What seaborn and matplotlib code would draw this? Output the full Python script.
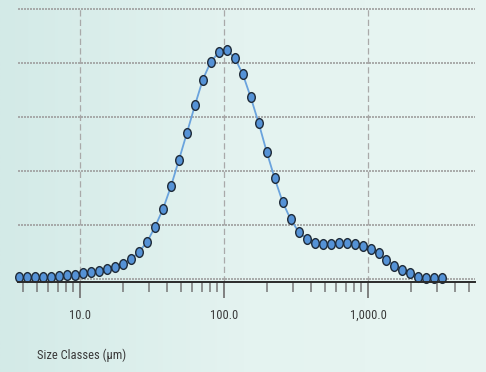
import numpy as np
import matplotlib
matplotlib.use("Agg")
import matplotlib.pyplot as plt
from matplotlib import font_manager
from matplotlib.path import Path
from matplotlib.transforms import Affine2D
from matplotlib.ticker import FixedLocator, NullFormatter
from matplotlib.colors import LinearSegmentedColormap
import seaborn as sns

# Size class centres (µm) of the laser-diffraction distribution
size_classes = [
    3.784, 4.300, 4.886, 5.551, 6.307, 7.166, 8.142, 9.250, 10.51, 11.94,
    13.57, 15.41, 17.51, 19.90, 22.61, 25.68, 29.18, 33.15, 37.67, 42.80,
    48.63, 55.25, 62.77, 71.32, 81.03, 92.06, 104.6, 118.8, 135.0, 153.4,
    174.3, 198.0, 224.9, 255.6, 290.4, 329.9, 374.8, 425.9, 483.9, 549.7,
    624.6, 709.6, 806.3, 916.1, 1041, 1183, 1344, 1527, 1735, 1971,
    2239, 2544, 2891, 3284,
]
# Volume density (%) per size class
volume_density = [
    0.04, 0.04, 0.04, 0.04, 0.04, 0.06, 0.08, 0.09, 0.11, 0.13,
    0.16, 0.19, 0.23, 0.29, 0.37, 0.51, 0.69, 0.97, 1.30, 1.72,
    2.21, 2.71, 3.22, 3.70, 4.03, 4.20, 4.25, 4.10, 3.80, 3.37,
    2.89, 2.36, 1.87, 1.43, 1.11, 0.88, 0.75, 0.68, 0.66, 0.66,
    0.67, 0.67, 0.65, 0.62, 0.56, 0.48, 0.36, 0.25, 0.17, 0.11,
    0.05, 0.03, 0.03, 0.03,
]
major_ticks = [10, 100, 1000]
major_labels = ["10.0", "100.0", "1,000.0"]
minor_ticks = [4, 5, 6, 7, 8, 9, 20, 30, 40, 50, 60, 70, 80, 90,
               200, 300, 400, 500, 600, 700, 800, 900, 2000, 3000, 4000, 5000]
y_grid = [0, 1, 2, 3, 4, 5]
x_label = "Size Classes (µm)"

sns.set_style("white")

available = {f.name for f in font_manager.fontManager.ttflist}
font = next((f for f in ["Liberation Sans Narrow", "DejaVu Sans Condensed",
                         "Roboto Condensed", "Noto Sans", "DejaVu Sans"]
             if f in available), "DejaVu Sans")
plt.rcParams["font.family"] = [font, "DejaVu Sans"]

W, H = 486, 372
fig = plt.figure(figsize=(W / 100, H / 100), dpi=100)

# Soft teal backdrop
bg = fig.add_axes([0, 0, 1, 1], zorder=-10)
cmap = LinearSegmentedColormap.from_list("bg", ["#d3eae7", "#e4f3f0", "#e8f5f2"])
grad = np.tile(np.linspace(0, 1, 256), (16, 1))
bg.imshow(grad, cmap=cmap, aspect="auto", extent=[0, 1, 0, 1])
bg.set_axis_off()

left, right, top, bottom = 18, 475, 9, 281.5
ax = fig.add_axes([left / W, 1 - bottom / H, (right - left) / W, (bottom - top) / H])
ax.patch.set_alpha(0)

ax.set_xscale("log")
ax.set_xlim(3.711, 5535)
ax.set_ylim(-0.039, 5.005)

# Horizontal dotted grid
for yv in y_grid:
    ax.axhline(yv, color="#9e9e9e", lw=1.2, ls=(0, (1.2, 0.6)), zorder=1, clip_on=False)
# Vertical dashed grid at decades
for xv in major_ticks:
    ax.axvline(xv, color="#a9a9a9", lw=0.9, ls=(0, (5.0, 2.6)), zorder=1)

ellipse = Path.unit_circle().transformed(Affine2D().scale(0.78, 1.0))
sns.lineplot(x=size_classes, y=volume_density, ax=ax, color="#6aa3dd", lw=1.3,
             marker=ellipse, markersize=7.0, markerfacecolor="#5592d6",
             markeredgecolor="#1e2a38", markeredgewidth=1.0, zorder=3,
             clip_on=False, legend=False)

for s in ["left", "right", "top"]:
    ax.spines[s].set_visible(False)
ax.spines["bottom"].set_color("#2a2a2a")
ax.spines["bottom"].set_linewidth(1.4)
ax.spines["bottom"].set_zorder(4)

ax.xaxis.set_major_locator(FixedLocator(major_ticks))
ax.set_xticklabels(major_labels)
ax.xaxis.set_minor_locator(FixedLocator(minor_ticks))
ax.xaxis.set_minor_formatter(NullFormatter())
ax.tick_params(axis="x", which="both", bottom=True, top=False)
ax.tick_params(axis="x", which="major", length=11.5, width=1.3, color="#777777",
               direction="out", pad=8, labelsize=9, labelcolor="#3a3a3a")
ax.tick_params(axis="x", which="minor", length=7, width=1.1, color="#777777",
               direction="out")
ax.set_yticks([])
ax.set_xlabel("")
ax.set_ylabel("")

fig.text(37 / W, 1 - 355 / H, x_label, ha="left", va="center",
         fontsize=9, color="#3a3a3a")

fig.savefig("out.png", dpi=100)
